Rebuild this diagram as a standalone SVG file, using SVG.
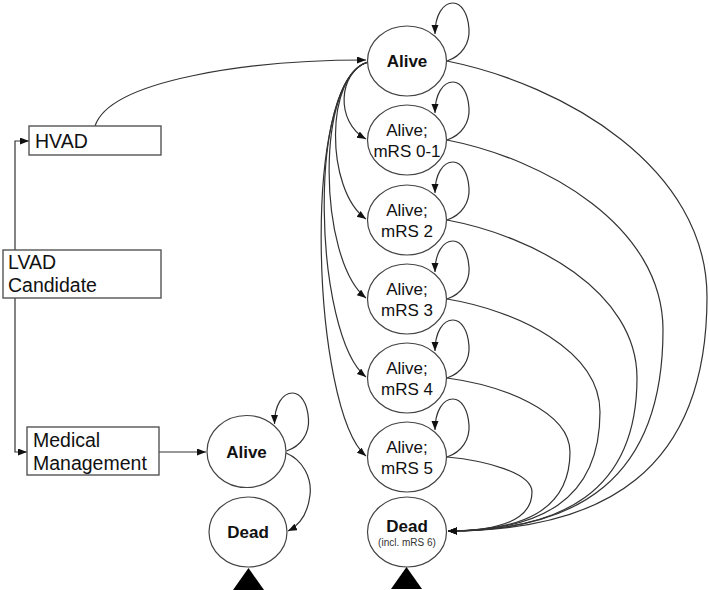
<svg xmlns="http://www.w3.org/2000/svg" width="709" height="590" viewBox="0 0 709 590">
<defs>
<marker id="ah" markerUnits="userSpaceOnUse" markerWidth="10" markerHeight="8" refX="9" refY="3.5" orient="auto">
<path d="M0,0 L9,3.5 L0,7 z" fill="#111"/>
</marker>
<style>
.n{fill:#fff;stroke:#444;stroke-width:1.2}
.b{fill:#fff;stroke:#555;stroke-width:1.4}
.t{font-family:"Liberation Sans",Arial,sans-serif;font-size:17px;fill:#111;text-anchor:middle}
.tb{font-family:"Liberation Sans",Arial,sans-serif;font-size:17px;font-weight:bold;fill:#111;text-anchor:middle}
.ts{font-family:"Liberation Sans",Arial,sans-serif;font-size:10px;fill:#333;text-anchor:middle}
.bt{font-family:"Liberation Sans",Arial,sans-serif;font-size:19.5px;fill:#111}
.c{fill:none;stroke:#333;stroke-width:1.2}
.a{marker-end:url(#ah)}
.tri{fill:#000}
</style>
</defs>
<rect width="709" height="590" fill="#fff"/>

<g id="connectors">
<!-- left tree -->
<path class="c a" d="M15,250 L15,141 L29,141"/>
<path class="c a" d="M15,298 L15,452 L27,452"/>
<path class="c a" d="M95,126 C110,80 250,60 366,60"/>
<path class="c a" d="M159,452 L206,452"/>
<!-- small model -->
<path class="c a" d="M286.5,451 C301.5,446 309.5,433 308.5,419 C307.5,403 300.5,393 292.5,393 C282.5,393 274.5,405 274.5,424"/>
<path class="c a" d="M286,453 C303,460 312,478 310,495 C308,512 300,525 288,531"/>
<!-- self loops main column -->
<path class="c a" d="M447,61 C462,56 470,43 469,29 C468,13 461,3 453,3 C443,3 435,15 435,34"/>
<path class="c a" d="M447,140 C462,135 470,122 469,108 C468,92 461,82 453,82 C443,82 435,94 435,113"/>
<path class="c a" d="M447,220 C462,215 470,202 469,188 C468,172 461,162 453,162 C443,162 435,174 435,193"/>
<path class="c a" d="M447,299 C462,294 470,281 469,267 C468,251 461,241 453,241 C443,241 435,253 435,272"/>
<path class="c a" d="M447,378 C462,373 470,360 469,346 C468,330 461,320 453,320 C443,320 435,332 435,351"/>
<path class="c a" d="M447,457 C462,452 470,439 469,425 C468,409 461,399 453,399 C443,399 435,411 435,430"/>
<!-- Alive to states (left side) -->
<path class="c a" d="M368,62 C338,72 335,122 366,139"/>
<path class="c a" d="M368,62 C325,75 325,190 366,219"/>
<path class="c a" d="M368,62 C315,78 318,260 366,298"/>
<path class="c a" d="M368,62 C306,80 314,335 366,377"/>
<path class="c a" d="M368,62 C300,80 312,410 366,456"/>
<!-- to Dead (right side) -->
<path class="c a" d="M447,61 C564,84.6 707,167.2 707,297 C707,472.5 603,531 448,531"/>
<path class="c a" d="M447,140 C544.2,159 663,225.5 663,330 C663,480.75 576.6,531 448,531"/>
<path class="c a" d="M447,220 C532.5,235.8 637,291.1 637,378 C637,492.75 561,531 448,531"/>
<path class="c a" d="M447,299 C515.9,310.3 600,349.9 600,412 C600,501.25 538.8,531 448,531"/>
<path class="c a" d="M447,378 C502.4,385.4 570,411.3 570,452 C570,511.25 520.8,531 448,531"/>
<path class="c a" d="M447,457 C485.3,460.5 532,472.75 532,492 C532,521.25 498,531 448,531"/>
</g>

<g id="hvad">
<rect class="b" x="29" y="126" width="132" height="29"/>
<text class="bt" x="35" y="148">HVAD</text>
</g>
<g id="lvad">
<rect class="b" x="3" y="250" width="158" height="48"/>
<text class="bt" x="8" y="269">LVAD</text>
<text class="bt" x="8" y="292">Candidate</text>
</g>
<g id="medical">
<rect class="b" x="27" y="427" width="132" height="48"/>
<text class="bt" x="33" y="447">Medical</text>
<text class="bt" x="33" y="470">Management</text>
</g>

<g id="mm-alive">
<ellipse class="n" cx="246.5" cy="451.5" rx="39.5" ry="36"/>
<text class="tb" x="246.5" y="457.5">Alive</text>
</g>
<g id="mm-dead">
<ellipse class="n" cx="248" cy="532" rx="39" ry="35"/>
<text class="tb" x="248" y="538">Dead</text>
<polygon class="tri" points="248.5,568 233,590 264,590"/>
</g>

<g id="alive">
<ellipse class="n" cx="407" cy="61" rx="39.5" ry="35"/>
<text class="tb" x="407" y="67">Alive</text>
</g>
<g id="mrs01">
<ellipse class="n" cx="407" cy="140" rx="39.5" ry="35"/>
<text class="t" x="407" y="136">Alive;</text>
<text class="t" x="407" y="157">mRS 0-1</text>
</g>
<g id="mrs2">
<ellipse class="n" cx="407" cy="220" rx="39.5" ry="35"/>
<text class="t" x="407" y="216">Alive;</text>
<text class="t" x="407" y="237">mRS 2</text>
</g>
<g id="mrs3">
<ellipse class="n" cx="407" cy="299" rx="39.5" ry="35"/>
<text class="t" x="407" y="295">Alive;</text>
<text class="t" x="407" y="316">mRS 3</text>
</g>
<g id="mrs4">
<ellipse class="n" cx="407" cy="378" rx="39.5" ry="35"/>
<text class="t" x="407" y="374">Alive;</text>
<text class="t" x="407" y="395">mRS 4</text>
</g>
<g id="mrs5">
<ellipse class="n" cx="407" cy="457" rx="39.5" ry="35"/>
<text class="t" x="407" y="453">Alive;</text>
<text class="t" x="407" y="474">mRS 5</text>
</g>
<g id="dead">
<ellipse class="n" cx="407" cy="532" rx="39.5" ry="35"/>
<text class="tb" x="407" y="532">Dead</text>
<text class="ts" x="407" y="546">(incl. mRS 6)</text>
<polygon class="tri" points="406.5,567 391,589 422,589"/>
</g>
</svg>
